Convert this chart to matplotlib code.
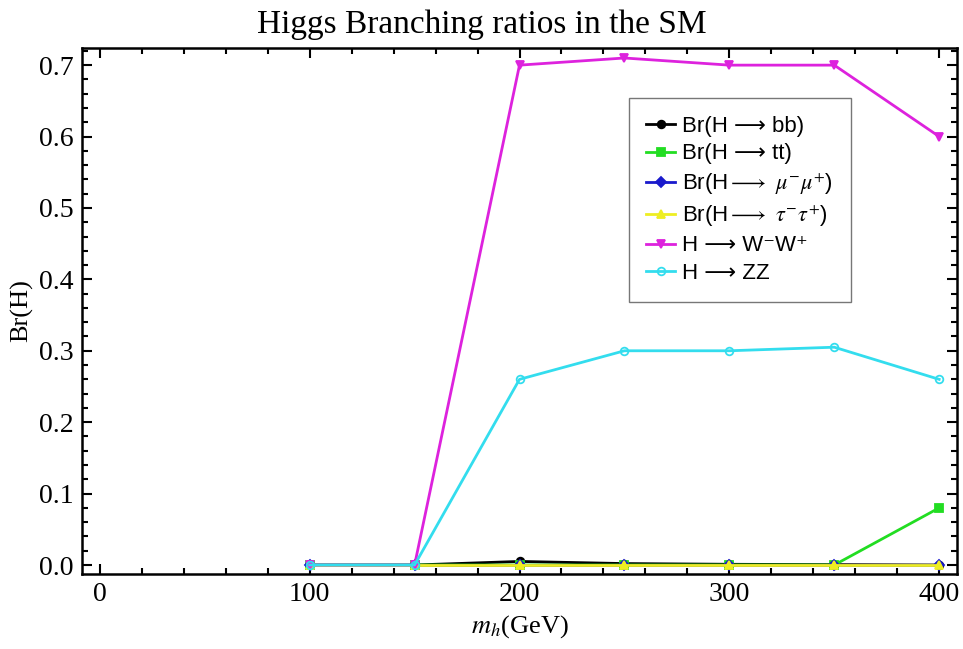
import numpy as np
import matplotlib
matplotlib.use('Agg')
import matplotlib.pyplot as plt
from matplotlib.ticker import MultipleLocator, FormatStrFormatter

plt.rcParams['mathtext.fontset'] = 'stix'

# Higgs mass points (GeV) and branching ratios
mh      = [100, 150, 200, 250, 300, 350, 400]
br_bb   = [0.0, 0.0, 0.005, 0.002, 0.001, 0.0005, 0.0]
br_tt   = [0.0, 0.0, 0.0, 0.0, 0.0, 0.0, 0.08]
br_mumu = [0.0, 0.0, 0.0, 0.0, 0.0, 0.0, 0.0]
br_tau  = [0.0, 0.0, 0.0, 0.0, 0.0, 0.0, 0.0]
br_ww   = [0.0, 0.0, 0.70, 0.71, 0.70, 0.70, 0.60]
br_zz   = [0.0, 0.0, 0.26, 0.30, 0.30, 0.305, 0.26]

labels = ['Br(H \u27f6 bb)',
          'Br(H \u27f6 tt)',
          r'Br(H$\longrightarrow$ $\mu^{-}\mu^{+}$)',
          r'Br(H$\longrightarrow$ $\tau^{-}\tau^{+}$)',
          'H \u27f6 W\u207bW\u207a',
          'H \u27f6 ZZ']

series = [br_bb, br_tt, br_mumu, br_tau, br_ww, br_zz]
colors = ['black', '#22dd22', '#1a1acc', '#eeee22', '#dd22dd', '#33ddee']
markers = ['o', 's', 'D', '^', 'v', 'o']
filled = [True, True, True, True, True, False]

fig = plt.figure(figsize=(9.63, 6.49), dpi=100)
ax = fig.add_axes([82/963, 1 - 574/649, 875/963, 526/649])

for y, c, m, f, lab in zip(series, colors, markers, filled, labels):
    ax.plot(mh, y, color=c, lw=2, marker=m, ms=5.5,
            mfc=c if f else 'none', mec=c, mew=1.3, label=lab)

ax.set_xlim(-8.5, 408.5)
ax.set_ylim(-0.0126, 0.724)
ax.xaxis.set_major_locator(MultipleLocator(100))
ax.xaxis.set_minor_locator(MultipleLocator(20))
ax.yaxis.set_major_locator(MultipleLocator(0.1))
ax.yaxis.set_minor_locator(MultipleLocator(0.02))
ax.yaxis.set_major_formatter(FormatStrFormatter('%.1f'))
ax.tick_params(which='both', direction='in', top=True, right=True, width=1.5)
ax.tick_params(which='major', length=7, labelsize=20, pad=6)
ax.tick_params(which='minor', length=4)
for lab in ax.get_xticklabels() + ax.get_yticklabels():
    lab.set_family('Liberation Serif')
for s in ax.spines.values():
    s.set_linewidth(1.8)

fig.text(0.5, 1 - 25/649, 'Higgs Branching ratios in the SM',
         family='Liberation Serif', fontsize=24, ha='center', va='center')
ax.set_xlabel('$m_h$(GeV)', family='Liberation Serif', fontsize=19)
ax.set_ylabel('Br(H)', family='Liberation Serif', fontsize=19)

leg = ax.legend(loc='upper left', bbox_to_anchor=(0.612, 0.926),
                prop={'family': ['Liberation Sans', 'DejaVu Sans'], 'size': 16},
                frameon=True, fancybox=False, edgecolor='#555555',
                handlelength=1.3, handletextpad=0.3, labelspacing=0.3,
                borderpad=0.8, markerscale=1.0)
leg.get_frame().set_linewidth(1.0)

fig.savefig('out.png', dpi=100)
